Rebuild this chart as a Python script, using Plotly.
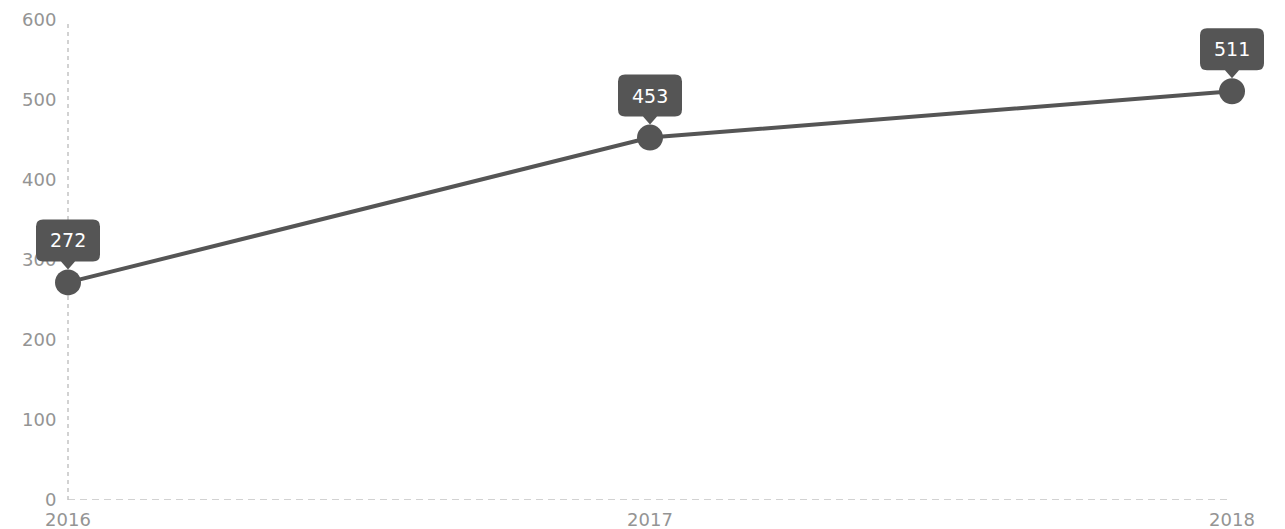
import plotly.graph_objects as go

years = [2016, 2017, 2018]
values = [272, 453, 511]
y_ticks = [0, 100, 200, 300, 400, 500, 600]

DARK = "#555555"
TICK = "#949494"
FONT = "DejaVu Sans, Arial, sans-serif"

# callout bubble (pixel path relative to the data point, y up)
W, R = 32, 7          # half width, corner radius
B, T = 21, 63         # box bottom / top above point
P, PW = 13, 7         # pointer tip height, pointer half width
bubble = (
    f"M {-PW},{B} L 0,{P} L {PW},{B} L {W-R},{B} Q {W},{B} {W},{B+R} "
    f"L {W},{T-R} Q {W},{T} {W-R},{T} L {-W+R},{T} Q {-W},{T} {-W},{T-R} "
    f"L {-W},{B+R} Q {-W},{B} {-W+R},{B} Z"
)

PX_PER_YEAR = 582
PAD_L, PAD_R = 41, 45
PLOT_W = 1250

fig = go.Figure()
fig.add_trace(go.Scatter(
    x=years, y=values, mode="lines+markers",
    line=dict(color=DARK, width=4),
    marker=dict(color=DARK, size=26),
    cliponaxis=False, hoverinfo="skip", showlegend=False,
))

for x, v in zip(years, values):
    fig.add_shape(type="path", xref="x", yref="y",
                  xsizemode="pixel", ysizemode="pixel",
                  xanchor=x, yanchor=v, path=bubble,
                  fillcolor=DARK, line=dict(width=0), layer="above")
    fig.add_annotation(
        x=x, y=v, text=str(v), showarrow=False, yshift=(B + T) / 2,
        font=dict(color="white", size=19, family=FONT),
    )

# dashed axis lines
fig.add_shape(type="line", xref="x", yref="y", x0=years[0], x1=years[-1], y0=0, y1=0,
              line=dict(color="#c4c4c4", width=1.5, dash="7px,5px"), layer="below")
fig.add_shape(type="line", xref="x", yref="y domain", x0=years[0], x1=years[0], y0=0, y1=1,
              line=dict(color="#c4c4c4", width=1.5, dash="4px,4px"), layer="below")

fig.update_layout(
    width=1277, height=521,
    margin=dict(l=19, r=8, t=12, b=29),
    paper_bgcolor="white", plot_bgcolor="white",
    font=dict(family=FONT, size=18, color=TICK),
    xaxis=dict(range=[years[0] - PAD_L / PX_PER_YEAR, years[-1] + PAD_R / PX_PER_YEAR],
               tickvals=years, ticktext=[str(y) for y in years],
               showgrid=False, zeroline=False, showline=False, automargin=False,
               ticks="outside", ticklen=3, tickcolor="rgba(0,0,0,0)",
               tickfont=dict(size=18, color=TICK)),
    yaxis=dict(range=[0, 600], tickvals=y_ticks,
               anchor="free", position=PAD_L / PLOT_W,
               showgrid=False, zeroline=False, showline=False, automargin=False,
               ticks="outside", ticklen=8, tickcolor="rgba(0,0,0,0)",
               tickfont=dict(size=18, color=TICK)),
)

fig.write_html("out.html")
